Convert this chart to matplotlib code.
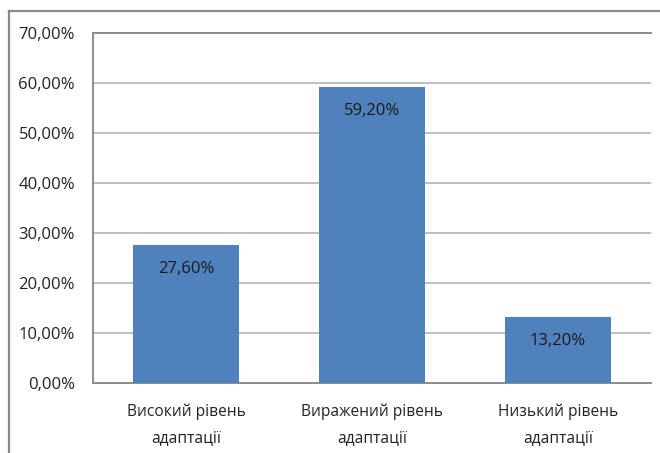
import matplotlib
matplotlib.use("Agg")
import matplotlib.pyplot as plt
from matplotlib.lines import Line2D

categories = ["Високий рівень\nадаптації", "Виражений рівень\nадаптації", "Низький рівень\nадаптації"]
values = [27.6, 59.2, 13.2]
value_labels = ["27,60%", "59,20%", "13,20%"]
yticks = [0, 10, 20, 30, 40, 50, 60, 70]
ytick_labels = ["0,00%", "10,00%", "20,00%", "30,00%", "40,00%", "50,00%", "60,00%", "70,00%"]

plt.rcParams['font.family'] = ['Open Sans', 'DejaVu Sans']

W, H = 660, 453
fig = plt.figure(figsize=(W / 100, H / 100), dpi=100)
fig.patch.set_facecolor("white")

# outer chart frame (cropped at right and bottom)
fig.add_artist(Line2D([9 / W, 1.0], [1 - 11 / H, 1 - 11 / H], color="#8a8a8a", lw=1.6, transform=fig.transFigure))
fig.add_artist(Line2D([9 / W, 9 / W], [0, 1 - 11 / H], color="#8a8a8a", lw=1.6, transform=fig.transFigure))

ax = fig.add_axes([93 / W, 1 - 383 / H, (651 - 93) / W, (383 - 33) / H])
x = range(len(categories))
bars = ax.bar(x, values, width=0.575, color="#4f81bd", zorder=3)
ax.set_xlim(-0.5, 2.5)
ax.set_ylim(0, 70)
ax.set_yticks(yticks)
ax.set_yticklabels(ytick_labels, fontsize=12, color="#222222")
ax.set_xticks(list(x))
ax.set_xticklabels(categories, fontsize=11.2, color="#222222", linespacing=1.8)
ax.tick_params(axis="y", length=0, pad=13)
ax.tick_params(axis="x", length=0, pad=15)
ax.yaxis.grid(True, color="#b4b4b4", lw=1.2, zorder=0)
for s in ["top", "left", "bottom"]:
    ax.spines[s].set_color("#8c8c8c")
    ax.spines[s].set_linewidth(1.4)
ax.spines["right"].set_visible(False)

for b, lab in zip(bars, value_labels):
    ax.annotate(lab, (b.get_x() + b.get_width() / 2, b.get_height()),
                xytext=(0, -24), textcoords="offset pixels", ha="center", va="center",
                fontsize=12, color="#1a1a1a", zorder=4)

fig.savefig("out.png", dpi=100)
